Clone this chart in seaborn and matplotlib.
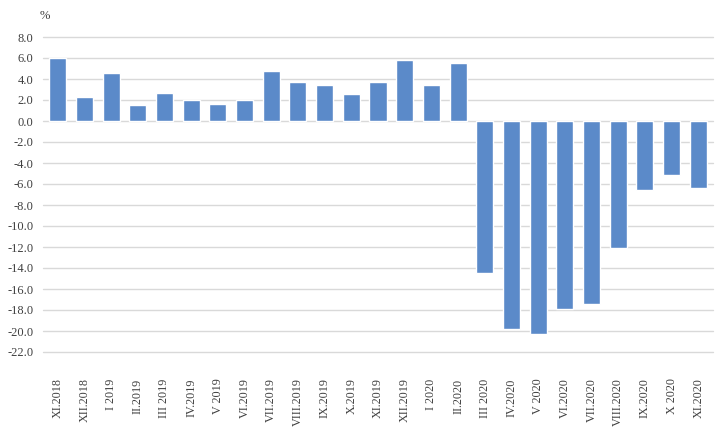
import pandas as pd
import matplotlib.pyplot as plt
import seaborn as sns

# Data
months = ["XI.2018", "XII.2018", "I 2019", "II.2019", "III 2019", "IV.2019", "V 2019",
          "VI.2019", "VII.2019", "VIII.2019", "IX.2019", "X.2019", "XI.2019", "XII.2019",
          "I 2020", "II.2020", "III 2020", "IV.2020", "V 2020", "VI.2020", "VII.2020",
          "VIII.2020", "IX.2020", "X 2020", "XI.2020"]
change = [6.0, 2.3, 4.6, 1.55, 2.7, 2.0, 1.65, 2.0, 4.8, 3.7, 3.4, 2.6, 3.7, 5.8,
          3.4, 5.5, -14.5, -19.8, -20.3, -17.9, -17.4, -12.1, -6.6, -5.1, -6.4]
yticks = [8, 6, 4, 2, 0, -2, -4, -6, -8, -10, -12, -14, -16, -18, -20, -22]

df = pd.DataFrame({"month": months, "change": change})

sns.set_style("white")
plt.rcParams['font.family'] = ['Liberation Serif', 'DejaVu Serif']
plt.rcParams['axes.unicode_minus'] = False

fig = plt.figure(figsize=(7.24, 4.46), dpi=100)
ax = fig.add_axes([43 / 724, 94 / 446, 670 / 724, 315 / 446])

sns.barplot(data=df, x="month", y="change", color="#5b8ac9", saturation=1,
            width=0.64, ax=ax, zorder=3)

ax.set_ylim(-22, 8)
ax.set_xlim(-0.55, 24.55)
ax.set_yticks(yticks)
ax.set_yticklabels([f"{v:.1f}" for v in yticks])
ax.yaxis.grid(True, color="#d9d9d9", linewidth=1, zorder=0)
for gl in ax.yaxis.get_gridlines():
    gl.set_clip_on(False)
ax.set_axisbelow(True)
for s in ax.spines.values():
    s.set_visible(False)

ax.tick_params(axis="y", length=0, pad=7, labelsize=9, labelcolor="#404040")
ax.tick_params(axis="x", length=0, pad=19, labelsize=8.7, labelcolor="#404040",
               labelrotation=90)
ax.set_xlabel("")
ax.set_ylabel("")

fig.text(40 / 724, 1 - 16 / 446, "%", fontsize=9, color="#404040", va="center")

fig.savefig("out.png", dpi=100)
